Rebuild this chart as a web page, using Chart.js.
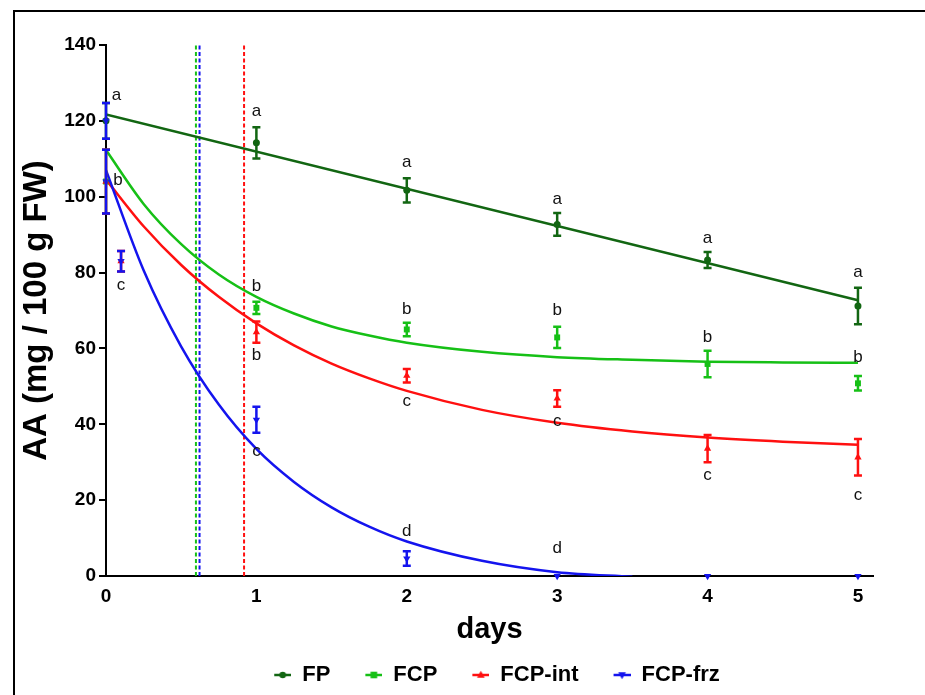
<!DOCTYPE html>
<html>
<head>
<meta charset="utf-8">
<script src="https://cdn.jsdelivr.net/npm/chart.js@4.4.1/dist/chart.umd.min.js"></script>
<style>
  html, body { margin: 0; padding: 0; background: #fff; }
  canvas { display: block; }
</style>
</head>
<body>
<canvas id="chart" width="925" height="695"></canvas>
<script>
// Ascorbic acid (AA) content during storage, mean ± SD
const seriesNames = ['FP', 'FCP', 'FCP-int', 'FCP-frz'];

const fpDays = [0, 1, 2, 3, 4, 5];
const fpMean = [120, 114.2, 101.7, 92.7, 83.3, 71.2];
const fpSd   = [4.7, 4.1, 3.2, 3.0, 2.1, 4.8];

const fcpDays = [0, 1, 2, 3, 4, 5];
const fcpMean = [104, 70.7, 65.0, 62.9, 55.9, 50.8];
const fcpSd   = [8.4, 1.6, 1.8, 2.8, 3.5, 1.9];

const intDays = [0, 0.1, 1, 2, 3, 4, 5];
const intMean = [104, 83, 64.3, 52.8, 46.8, 33.6, 31.3];
const intSd   = [8.4, 2.7, 2.8, 1.8, 2.2, 3.6, 4.8];

const frzDays = [0, 0, 0.1, 1, 2, 3, 4, 5];
const frzMean = [120, 104, 83, 41.2, 4.6, 0, 0, 0];
const frzSd   = [4.7, 8.4, 2.7, 3.4, 1.9, 0, 0, 0];

// Fitted degradation curves
const fpFitDays = [0, 5];
const fpFit     = [121.7, 72.7];
const fitDays = [0, 0.25, 0.5, 0.75, 1, 1.25, 1.5, 1.75, 2, 2.5, 3, 3.5, 4, 4.5, 5];
const fcpFit  = [112.3, 98.1, 87.5, 79.5, 73.6, 69.2, 65.8, 63.4, 61.5, 59.1, 57.7, 57.0, 56.5, 56.3, 56.2];
const intFit  = [104.5, 92.2, 82.0, 73.6, 66.6, 60.8, 56.0, 52.1, 48.8, 43.8, 40.4, 38.1, 36.5, 35.4, 34.6];
const frzFitDays = [0, 0.25, 0.5, 0.75, 1, 1.25, 1.5, 1.75, 2, 2.5, 3, 3.5];
const frzFit     = [107, 80.6, 60.5, 45.2, 33.5, 24.8, 18.1, 13.0, 9.1, 4.0, 1.0, -0.2];

// Vertical reference lines (days): FCP, FCP-frz, FCP-int
const refDays = [0.598, 0.622, 0.918];

// Significance letters
const letterDays = [0.07, 0.08, 0.10, 1, 1, 1, 1, 2, 2, 2, 2, 3, 3, 3, 3, 4, 4, 4, 5, 5, 5];
const letterVals = [126.8, 104.4, 76.7, 122.4, 76.5, 58.3, 33.0, 109.0, 70.3, 46.1, 11.7,
                    99.3, 70.1, 40.8, 7.3, 89.0, 62.9, 26.5, 80.0, 57.7, 21.4];
const letterText = ['a', 'b', 'c', 'a', 'b', 'b', 'c', 'a', 'b', 'c', 'd',
                    'a', 'b', 'c', 'd', 'a', 'b', 'c', 'a', 'b', 'c'];

const xTicks = [0, 1, 2, 3, 4, 5];
const yTicks = [0, 20, 40, 60, 80, 100, 120, 140];

const FONT = '"Liberation Sans", Arial, Helvetica, sans-serif';
const C_FP = '#126612';
const C_FCP = '#16c016';
const C_INT = '#ff1010';
const C_FRZ = '#1414ee';
const colors = [C_FP, C_FCP, C_INT, C_FRZ];
const markers = ['circle', 'rect', 'triangle', 'triangleDown'];

const pts = (xs, ys) => xs.map((x, i) => ({ x: x, y: ys[i] }));

function drawMarker(g, style, x, y, color) {
  g.fillStyle = color;
  g.beginPath();
  if (style === 'circle') {
    g.arc(x, y, 3.3, 0, Math.PI * 2);
  } else if (style === 'rect') {
    g.rect(x - 3.3, y - 3.3, 6.6, 6.6);
  } else if (style === 'triangle') {
    g.moveTo(x, y - 4.2); g.lineTo(x + 3.8, y + 2.8); g.lineTo(x - 3.8, y + 2.8);
  } else {
    g.moveTo(x, y + 4.2); g.lineTo(x + 3.8, y - 2.8); g.lineTo(x - 3.8, y - 2.8);
  }
  g.closePath();
  g.fill();
}

// Legend symbols: short line with the series marker, right-aligned in the box
function legendIcon(i) {
  const c = document.createElement('canvas');
  c.width = 32; c.height = 14;
  const g = c.getContext('2d');
  g.strokeStyle = colors[i];
  g.lineWidth = 2.5;
  g.beginPath(); g.moveTo(15, 7); g.lineTo(32, 7); g.stroke();
  drawMarker(g, markers[i], 23.5, 7, colors[i]);
  return c;
}
const icons = colors.map((c, i) => legendIcon(i));

// Marker datasets with their SD values
const pointSets = [
  { days: fpDays, mean: fpMean, sd: fpSd, color: C_FP, style: 'circle' },
  { days: fcpDays, mean: fcpMean, sd: fcpSd, color: C_FCP, style: 'rect' },
  { days: intDays, mean: intMean, sd: intSd, color: C_INT, style: 'triangle' },
  { days: frzDays, mean: frzMean, sd: frzSd, color: C_FRZ, style: 'triangle' }
];

const fitLine = (data, color, order) => ({
  type: 'line', data: data, showLine: true, borderColor: color, borderWidth: 2.5,
  pointRadius: 0, fill: false, cubicInterpolationMode: 'monotone', order: order
});
const refLine = (d, color) => ({
  type: 'line', data: [{ x: d, y: 0 }, { x: d, y: 140 }], showLine: true,
  borderColor: color, borderWidth: 2, borderDash: [4, 2.5], pointRadius: 0, fill: false, order: 20
});

const datasets = [
  refLine(refDays[0], C_FCP),
  refLine(refDays[1], C_FRZ),
  refLine(refDays[2], C_INT),
  fitLine(pts(fpFitDays, fpFit), C_FP, 13),
  fitLine(pts(fitDays, fcpFit), C_FCP, 12),
  fitLine(pts(fitDays, intFit), C_INT, 11),
  fitLine(pts(frzFitDays, frzFit), C_FRZ, 10)
];
const pointIndex = [];
pointSets.forEach((s, i) => {
  pointIndex.push(datasets.length);
  datasets.push({
    label: seriesNames[i],
    data: pts(s.days, s.mean),
    showLine: false,
    pointStyle: s.style,
    rotation: i === 3 ? 180 : 0,
    pointRadius: s.style === 'circle' ? 3.5 : 4.2,
    backgroundColor: s.color,
    borderColor: s.color,
    borderWidth: 0,
    clip: false,
    order: 3 - i
  });
});

// Error bars and significance letters
const annotate = {
  id: 'annotate',
  afterDatasetsDraw(chart) {
    const { ctx, scales: { x, y } } = chart;
    ctx.save();
    pointSets.forEach(s => {
      ctx.strokeStyle = s.color;
      ctx.lineWidth = 2.5;
      s.days.forEach((d, j) => {
        if (!s.sd[j]) return;
        const px = x.getPixelForValue(d);
        const hi = y.getPixelForValue(s.mean[j] + s.sd[j]);
        const lo = y.getPixelForValue(s.mean[j] - s.sd[j]);
        ctx.beginPath();
        ctx.moveTo(px, hi); ctx.lineTo(px, lo);
        ctx.moveTo(px - 4, hi); ctx.lineTo(px + 4, hi);
        ctx.moveTo(px - 4, lo); ctx.lineTo(px + 4, lo);
        ctx.stroke();
      });
    });
    ctx.fillStyle = '#111';
    ctx.font = '17px ' + FONT;
    ctx.textAlign = 'center';
    ctx.textBaseline = 'middle';
    letterText.forEach((t, k) => {
      ctx.fillText(t, x.getPixelForValue(letterDays[k]), y.getPixelForValue(letterVals[k]));
    });
    ctx.restore();
  }
};

// Figure frame (left and top edges)
const frame = {
  id: 'frame',
  beforeDraw(chart) {
    const ctx = chart.ctx;
    ctx.save();
    ctx.fillStyle = '#fff';
    ctx.fillRect(0, 0, chart.width, chart.height);
    ctx.fillStyle = '#000';
    ctx.fillRect(13, 10, 2, chart.height - 10);
    ctx.fillRect(13, 10, chart.width - 13, 2);
    ctx.restore();
  }
};

new Chart(document.getElementById('chart'), {
  type: 'scatter',
  data: { datasets: datasets },
  plugins: [frame, annotate],
  options: {
    responsive: false,
    animation: false,
    events: [],
    layout: { padding: { left: 14, right: 52, top: 45, bottom: 0 } },
    scales: {
      x: {
        type: 'linear', min: 0, max: 5.1,
        afterFit: s => { s.height = 68; },
        afterBuildTicks: s => { s.ticks = xTicks.map(v => ({ value: v })); },
        ticks: { includeBounds: false, padding: 9, color: '#000', font: { family: FONT, size: 19, weight: 'bold' } },
        grid: { display: false, drawTicks: false },
        border: { display: true, color: '#000', width: 2 },
        title: { display: true, text: 'days', color: '#000', padding: 0,
                 font: { family: FONT, size: 29, weight: 'bold', lineHeight: 1 } }
      },
      y: {
        type: 'linear', min: 0, max: 140,
        afterFit: s => { s.width = 92; },
        afterBuildTicks: s => { s.ticks = yTicks.map(v => ({ value: v })); },
        ticks: { padding: 3, color: '#000', font: { family: FONT, size: 19, weight: 'bold' } },
        grid: { display: true, drawOnChartArea: false, drawTicks: true, tickLength: 7, color: '#000', lineWidth: 2 },
        border: { display: true, color: '#000', width: 2 },
        title: { display: true, text: 'AA (mg / 100 g FW)', color: '#000', padding: { top: 5, bottom: 0 },
                 font: { family: FONT, size: 33, weight: 'bold', lineHeight: 1.1 } }
      }
    },
    plugins: {
      tooltip: { enabled: false },
      legend: {
        position: 'bottom',
        fullSize: false,
        maxHeight: 51,
        labels: {
          usePointStyle: true,
          pointStyleWidth: 32,
          padding: 20,
          color: '#000',
          font: { family: FONT, size: 22, weight: 'bold' },
          generateLabels: () => seriesNames.map((n, i) => ({
            text: n, pointStyle: icons[i], fillStyle: colors[i], strokeStyle: colors[i],
            lineWidth: 0, hidden: false, datasetIndex: pointIndex[i], fontColor: '#000'
          }))
        }
      }
    }
  }
});
</script>
</body>
</html>
